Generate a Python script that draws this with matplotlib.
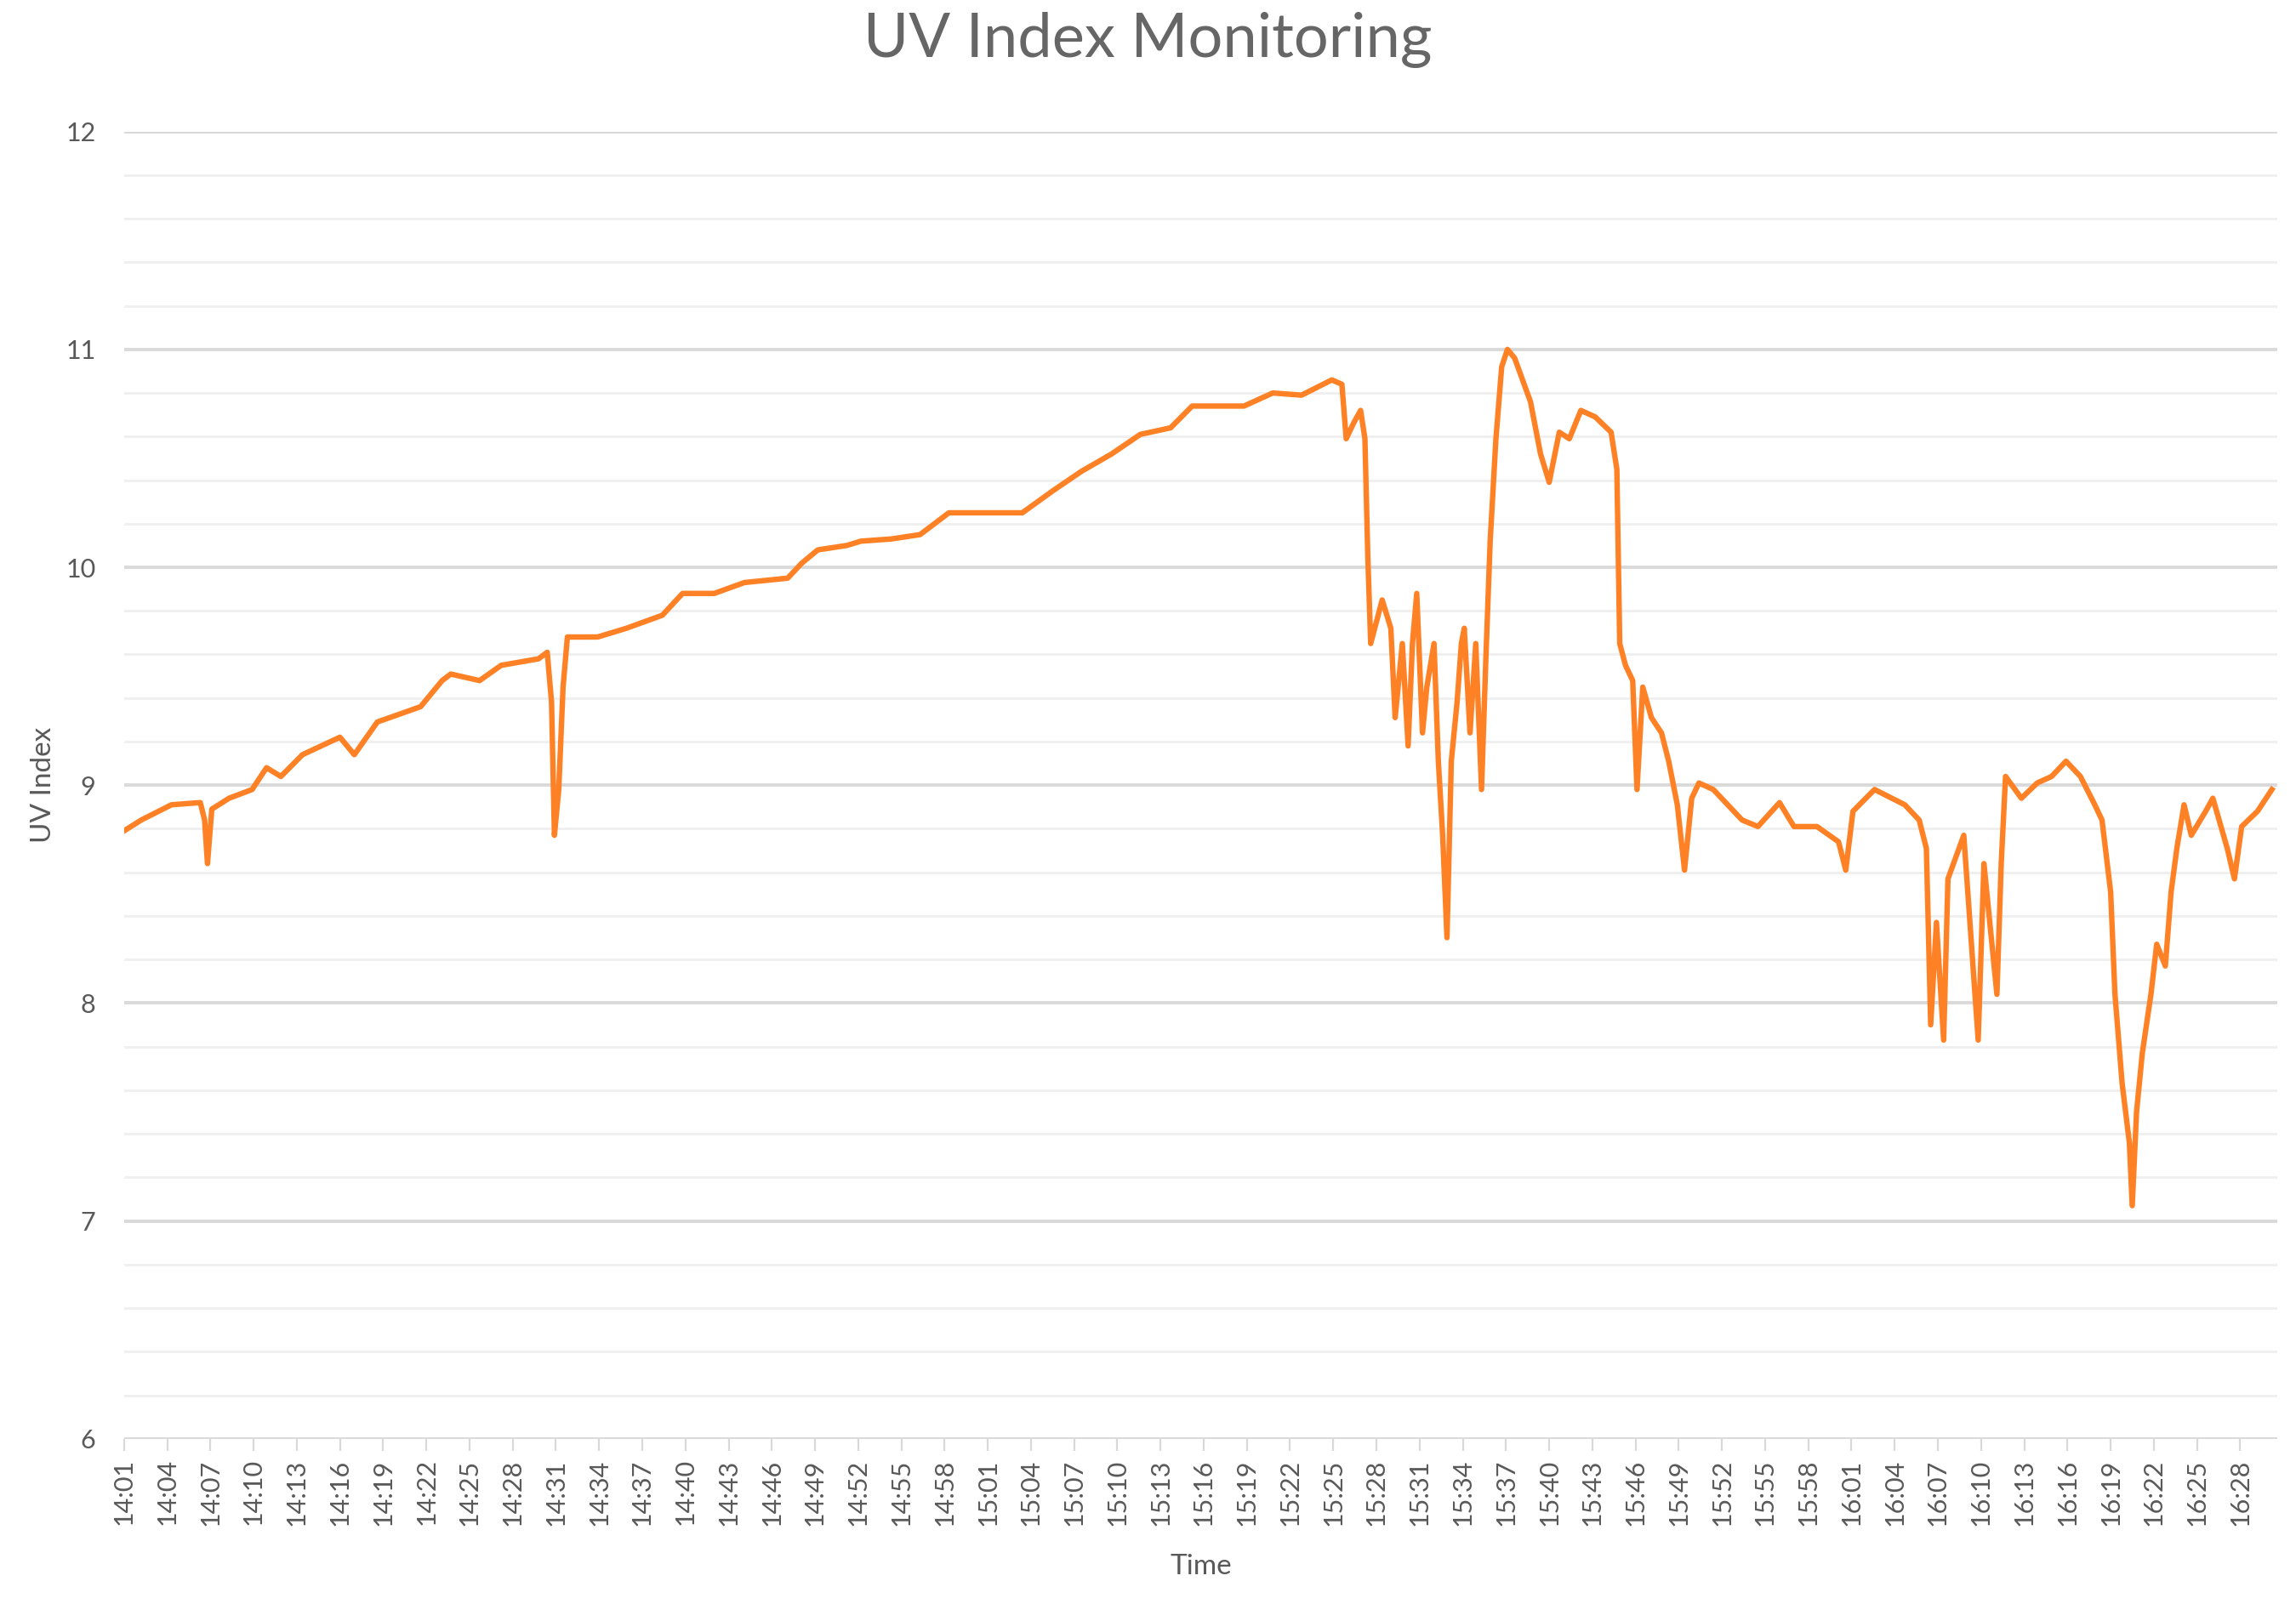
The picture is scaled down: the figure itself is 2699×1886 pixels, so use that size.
import matplotlib
matplotlib.use("Agg")
import matplotlib.pyplot as plt
import numpy as np

plt.rcParams['font.family'] = ['Lato', 'DejaVu Sans']

# minutes since 14:01
minutes = [0.0,1.2,3.3,5.3,5.6,5.8,6.1,7.3,8.9,9.9,10.9,12.4,15.0,16.0,17.6,20.6,22.1,22.7,24.7,26.2,
 28.8,29.4,29.7,29.9,30.2,30.5,30.8,32.9,34.9,37.4,38.8,41.0,43.1,46.1,47.1,48.2,50.2,51.2,53.3,55.3,
 57.3,62.4,64.5,66.5,68.6,70.6,72.7,74.2,77.8,79.8,81.8,83.9,84.6,84.9,85.4,85.9,86.2,86.4,86.6,87.4,
 88.0,88.3,88.8,89.2,89.5,89.8,90.2,90.5,91.0,91.3,91.6,91.9,92.2,92.6,92.9,93.1,93.5,93.9,94.3,94.6,
 94.9,95.3,95.7,96.1,96.6,97.7,98.4,99.0,99.7,100.4,101.2,102.2,103.3,103.7,103.9,104.3,104.8,105.1,105.5,106.1,
 106.8,107.3,107.9,108.4,108.9,109.4,110.4,111.4,112.4,113.5,115.0,116.0,117.6,119.1,119.6,120.1,121.6,123.7,124.7,125.2,
 125.5,125.9,126.4,126.7,127.8,128.3,128.8,129.2,129.8,130.1,130.4,130.7,131.8,132.9,133.9,134.9,135.9,136.9,137.4,138.0,
 138.3,138.8,139.3,139.5,139.8,140.2,140.8,141.2,141.8,142.2,142.6,143.1,143.6,144.6,145.1,146.1,146.6,147.1,148.2,149.2]
uv = [8.79,8.84,8.91,8.92,8.84,8.64,8.89,8.94,8.98,9.08,9.04,9.14,9.22,9.14,9.29,9.36,9.48,9.51,9.48,9.55,
 9.58,9.61,9.38,8.77,8.98,9.45,9.68,9.68,9.72,9.78,9.88,9.88,9.93,9.95,10.02,10.08,10.10,10.12,10.13,10.15,
 10.25,10.25,10.35,10.44,10.52,10.61,10.64,10.74,10.74,10.80,10.79,10.86,10.84,10.59,10.66,10.72,10.59,10.05,9.65,9.85,
 9.72,9.31,9.65,9.18,9.65,9.88,9.24,9.45,9.65,9.11,8.77,8.30,9.11,9.38,9.65,9.72,9.24,9.65,8.98,9.58,
 10.12,10.59,10.92,11.0,10.96,10.76,10.52,10.39,10.62,10.59,10.72,10.69,10.62,10.45,9.65,9.55,9.48,8.98,9.45,9.31,
 9.24,9.11,8.91,8.61,8.94,9.01,8.98,8.91,8.84,8.81,8.92,8.81,8.81,8.74,8.61,8.88,8.98,8.91,8.84,8.71,
 7.90,8.37,7.83,8.57,8.77,8.30,7.83,8.64,8.24,8.04,8.64,9.04,8.94,9.01,9.04,9.11,9.04,8.91,8.84,8.51,
 8.04,7.63,7.36,7.07,7.50,7.77,8.04,8.27,8.17,8.51,8.71,8.91,8.77,8.88,8.94,8.71,8.57,8.81,8.88,8.98]

tick_minutes = list(range(0, 148, 3))
tick_labels = [f"{14 + (1 + m) // 60}:{(1 + m) % 60:02d}" for m in tick_minutes]

gray = '#595959'
fig = plt.figure(figsize=(13.495, 9.43), dpi=200)
ax = fig.add_axes([0.054, 0.103, 0.938, 0.815])
ax.set_xlim(0, 149.6)
ax.set_ylim(6, 12)
for v in np.arange(6.2, 12, 0.2):
    if abs(v - round(v)) > 0.01:
        ax.axhline(v, color='#efefef', lw=1.0, zorder=1)
for v in range(6, 13):
    ax.axhline(v, color='#d9d9d9', lw=1.4, zorder=1)
ax.plot(minutes, uv, color='#ff8126', lw=2.3, zorder=3, solid_joinstyle='round')
for s in ax.spines.values():
    s.set_visible(False)
ax.set_yticks(range(6, 13))
ax.set_xticks(tick_minutes)
ax.set_xticklabels(tick_labels, rotation=90)
ax.tick_params(axis='y', length=0, labelsize=11, colors=gray, pad=12)
ax.tick_params(axis='x', length=5, color='#d9d9d9', labelsize=11, colors=gray)
ax.set_xlabel('Time', fontsize=12, color=gray, labelpad=12)
ax.set_ylabel('UV Index', fontsize=12, color=gray)
fig.text(0.5, 0.975, 'UV Index Monitoring', ha='center', va='center', fontsize=26, color='#666666')
fig.savefig('out.png', dpi=200)
